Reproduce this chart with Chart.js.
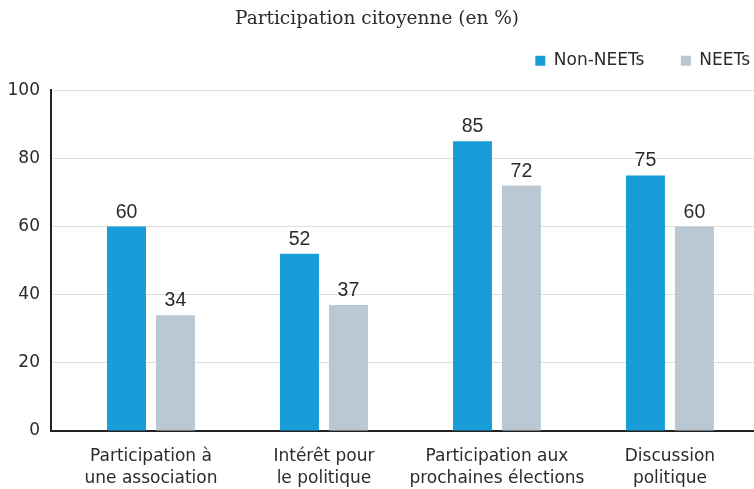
<!DOCTYPE html>
<html>
<head>
<meta charset="utf-8">
<script src="https://cdn.jsdelivr.net/npm/chart.js@4/dist/chart.umd.min.js"></script>
<style>
html,body{margin:0;padding:0;background:#fff;}
#wrap{width:754px;height:489px;position:relative;}
</style>
</head>
<body>
<div id="wrap"><canvas id="c" width="754" height="489"></canvas></div>
<script>
const categories = [
  ["Participation à", "une association"],
  ["Intérêt pour", "le politique"],
  ["Participation aux", "prochaines élections"],
  ["Discussion", "politique"]
];
const seriesNames = ["Non-NEETs", "NEETs"];
const nonNeets = [60, 52, 85, 75];
const neets = [34, 37, 72, 60];
const yTicks = [0, 20, 40, 60, 80, 100];

const BLUE = "#189dd9";
const GREY = "#b9c8d3";
const TEXT = "#2b2b2b";

const toPoints = arr => arr.map((v, i) => ({x: i, y: v}));

const valueLabels = {
  id: "valueLabels",
  afterDatasetsDraw(chart) {
    const ctx = chart.ctx;
    ctx.save();
    ctx.font = "19.5px 'Liberation Sans', Arial, sans-serif";
    ctx.fillStyle = TEXT;
    ctx.textAlign = "center";
    ctx.textBaseline = "alphabetic";
    chart.data.datasets.forEach((ds, di) => {
      const meta = chart.getDatasetMeta(di);
      meta.data.forEach((el, i) => {
        ctx.fillText(String(ds.data[i].y), el.x, el.y - 9);
      });
    });
    ctx.restore();
  }
};

// extra space below the legend row
const legendGap = {
  id: "legendGap",
  beforeLayout(chart) {
    const lg = chart.legend;
    if (lg && !lg._gapPatched) {
      const orig = lg.fit;
      lg.fit = function () { orig.call(this); this.height += 11; };
      lg._gapPatched = true;
    }
  }
};

new Chart(document.getElementById("c"), {
  type: "bar",
  data: {
    datasets: [
      {label: seriesNames[0], data: toPoints(nonNeets), backgroundColor: BLUE},
      {label: seriesNames[1], data: toPoints(neets), backgroundColor: GREY}
    ]
  },
  options: {
    responsive: false,
    animation: false,
    devicePixelRatio: 1,
    layout: {padding: {left: 0, right: 0, top: 0, bottom: 0}},
    datasets: {bar: {barPercentage: 0.796, categoryPercentage: 0.566}},
    plugins: {
      title: {
        display: true,
        text: "Participation citoyenne (en %)",
        color: TEXT,
        font: {family: "'DejaVu Serif', serif", size: 18.5, weight: "normal"},
        padding: {top: 8, bottom: 18}
      },
      legend: {
        display: true,
        position: "top",
        align: "end",
        labels: {
          boxWidth: 10, boxHeight: 10, padding: 4,
          color: TEXT,
          font: {family: "'DejaVu Sans', sans-serif", size: 17},
          generateLabels: chart => {
            const items = Chart.defaults.plugins.legend.labels.generateLabels(chart);
            items.forEach((it, i) => {
              if (i < items.length - 1) it.text = it.text + "\u00A0\u00A0\u00A0\u00A0\u00A0\u00A0";
            });
            return items;
          }
        }
      },
      tooltip: {enabled: false}
    },
    scales: {
      x: {
        type: "linear",
        offset: false,
        min: -0.578,
        max: 3.486,
        grid: {display: false, drawTicks: false},
        border: {display: true, color: "#222", width: 2},
        afterBuildTicks: axis => { axis.ticks = categories.map((c, i) => ({value: i})); },
        afterFit: axis => { axis.height = 58; },
        ticks: {
          autoSkip: false,
          maxRotation: 0,
          padding: 14,
          color: TEXT,
          font: {family: "'DejaVu Sans', sans-serif", size: 17, lineHeight: 1.33},
          callback: v => categories[v]
        }
      },
      y: {
        min: 0,
        max: 100,
        afterBuildTicks: axis => { axis.ticks = yTicks.map(v => ({value: v})); },
        afterFit: axis => { axis.width = 51; },
        grid: {color: "#dedede", lineWidth: 1, drawTicks: false},
        border: {display: true, color: "#222", width: 2},
        ticks: {
          padding: 11,
          color: TEXT,
          font: {family: "'DejaVu Sans', sans-serif", size: 17}
        }
      }
    }
  },
  plugins: [valueLabels, legendGap]
});
</script>
</body>
</html>
